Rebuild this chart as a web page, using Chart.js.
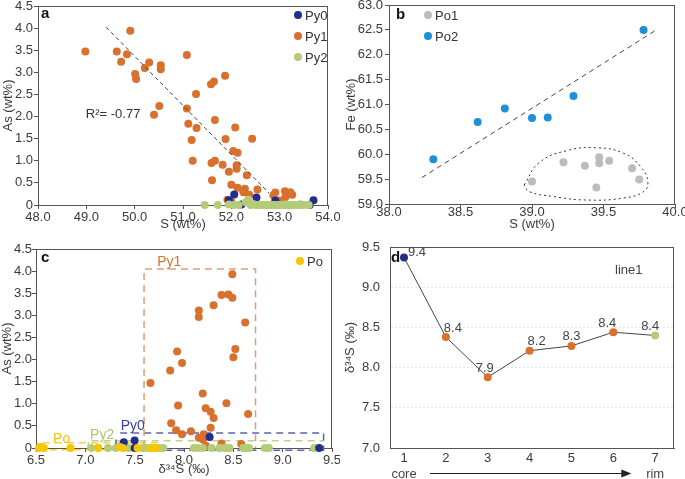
<!DOCTYPE html>
<html>
<head>
<meta charset="utf-8">
<script src="https://cdn.jsdelivr.net/npm/chart.js@4/dist/chart.umd.min.js"></script>
<style>
  body { margin: 0; background: #fff; width: 685px; height: 479px; position: relative; overflow: hidden; }
  canvas { position: absolute; }
</style>
</head>
<body>
<canvas id="ca" width="340" height="240" style="left:0;top:0"></canvas>
<canvas id="cb" width="345" height="240" style="left:340px;top:0"></canvas>
<canvas id="cc" width="340" height="249" style="left:0;top:230px"></canvas>
<canvas id="cd" width="345" height="249" style="left:340px;top:230px"></canvas>
<script>
// panel a: S vs As in pyrite
const aPy1 = [[48.98,3.47],[49.63,3.47],[49.72,3.24],[49.84,3.41],[49.91,3.94],[50.01,2.96],[50.03,2.85],[50.21,3.10],[50.30,3.22],[50.54,3.16],[50.54,3.07],[50.51,2.24],[50.40,2.04],[51.08,3.39],[51.27,2.51],[51.08,2.18],[51.11,1.84],[51.28,1.74],[51.18,1.47],[51.20,1.00],[51.58,2.73],[51.64,2.79],[51.87,2.92],[51.66,1.92],[51.88,1.49],[51.59,0.95],[51.66,1.00],[51.60,0.56],[51.82,0.91],[52.08,1.75],[52.04,1.22],[52.13,1.18],[52.11,0.90],[52.11,0.82],[51.95,0.75],[52.00,0.46],[52.13,0.39],[52.43,1.50],[52.32,0.67],[52.28,0.37],[52.25,0.29],[52.37,0.23],[52.54,0.35],[52.87,0.22],[52.91,0.28],[53.11,0.31],[53.22,0.29],[53.26,0.23],[53.12,0.18],[53.00,0.10],[51.92,0.12],[52.00,0.08],[53.42,0.01],[52.95,0.01]];
const aPy0 = [[52.06,0.24],[52.52,0.17],[51.95,0.11],[52.21,0.01],[52.91,0.10],[53.70,0.11],[53.62,0.0]];
const aPy2 = [[51.45,0],[51.72,0],[51.95,0.01],[52.05,0],[52.15,0],[52.30,0.06],[52.35,0.12],[52.40,0],[52.45,0.02],[52.50,0],[52.55,0],[52.60,0],[52.65,0],[52.70,0],[52.75,0],[52.80,0],[52.85,0],[52.90,0],[52.95,0],[53.00,0],[53.05,0],[53.10,0],[53.15,0],[53.20,0],[53.25,0],[53.30,0],[53.35,0],[53.40,0],[53.50,0],[53.60,0]];
const aTrend = [[49.41,4.02],[52.78,0.27]];
const aXRange = [48, 54, 1];
const aYRange = [0, 4.5, 0.5];

// panel b: S vs Fe in pyrrhotite
const bPo1 = [[39.00,59.45],[39.22,59.84],[39.37,59.77],[39.47,59.94],[39.47,59.82],[39.54,59.87],[39.45,59.33],[39.70,59.72],[39.75,59.49]];
const bPo2 = [[38.31,59.90],[38.62,60.65],[38.81,60.92],[39.00,60.73],[39.11,60.74],[39.29,61.17],[39.78,62.50]];
const bTrend = [[38.23,59.53],[39.87,62.50]];
const bField = [[38.945,59.38],[39.05,59.83],[39.24,60.07],[39.45,60.13],[39.64,60.02],[39.76,59.75],[39.81,59.45],[39.78,59.25],[39.64,59.12],[39.38,59.08],[39.15,59.15],[38.98,59.25],[38.945,59.38]];
const bXRange = [38, 40, 0.5];
const bYRange = [59, 63, 0.5];

// panel c: d34S vs As
const cPy1 = [[7.66,1.47],[7.86,1.75],[7.93,2.18],[7.98,1.92],[7.94,0.96],[7.87,0.56],[7.92,0.40],[7.98,0.31],[8.07,0.38],[8.15,3.11],[8.15,2.96],[8.19,1.23],[8.22,0.90],[8.27,0.82],[8.30,0.68],[8.27,0.46],[8.30,3.23],[8.38,3.46],[8.45,3.47],[8.49,3.40],[8.49,3.93],[8.52,2.24],[8.50,2.05],[8.43,1.01],[8.62,2.84],[8.65,0.77],[8.58,0.09],[8.38,0.10],[8.15,0.23],[8.20,0.31],[8.20,0.23],[8.22,0.05],[8.19,0.19]];
const cPy0 = [[7.50,0.17],[7.39,0.13],[7.50,0.0],[8.26,0.25],[9.37,0.0]];
const cPy2 = [[7.06,0],[7.13,0],[7.23,0],[7.31,0],[7.44,0],[7.58,0],[7.62,0],[7.68,0],[7.75,0],[7.79,0],[8.10,0],[8.14,0],[8.19,0],[8.28,0],[8.36,0],[8.41,0],[8.44,0],[8.46,0],[8.60,0],[8.63,0],[8.66,0],[8.82,0],[8.86,0],[9.32,0]];
const cPo = [[6.53,0],[6.55,0.02],[6.58,0],[6.85,0],[7.13,0],[7.35,0.02],[7.38,0],[7.53,0],[7.66,0],[7.72,0]];
const cBoxPy1 = [[7.595,0],[7.595,4.05],[8.725,4.05],[8.725,0]];
const cBoxPy0 = [[7.31,0.19],[7.31,-0.05],[9.415,-0.05],[9.415,0.34],[7.32,0.34]];
const cBoxPy2 = [[7.03,-0.03],[7.03,0.165],[9.42,0.165]];
const cBoxPo = [[6.52,-0.04],[6.52,0.12],[7.76,0.12],[7.76,-0.04],[6.52,-0.04]];
const cXRange = [6.5, 9.5, 0.5];
const cYRange = [0, 4.5, 0.5];

// panel d: core-to-rim profile
const dStep = [1, 2, 3, 4, 5, 6, 7];
const dDelta = [9.37, 8.38, 7.88, 8.21, 8.27, 8.44, 8.40];
const dYRange = [7, 9.5, 0.5];

const C = { py0: '#232d8c', py1: '#d8702e', py2: '#b4cc78', po: '#f7c600', po1: '#bcbcbc', po2: '#1e8fd8' };
const dColors = [C.py0, C.py1, C.py1, C.py1, C.py1, C.py1, C.py2];
const FONT = '"Liberation Sans", Arial, Helvetica, sans-serif';

Chart.defaults.font.family = FONT;
Chart.defaults.font.size = 13;
Chart.defaults.color = '#3a3a3a';

const pt = a => a.map(([x, y]) => ({ x, y }));
const f1 = v => v.toFixed(1);
const f0 = v => (v === 0 ? '0' : v.toFixed(1));

function axis(range, fmt, title, o) {
  const [min, max, step] = range;
  return {
    type: 'linear', min, max,
    ticks: { stepSize: step, callback: fmt, padding: o.pad, color: '#3a3a3a' },
    grid: { display: o.gridOff !== true, drawOnChartArea: !!o.grid, drawTicks: o.ticks !== false, tickLength: 4, color: o.gridColor || '#555' },
    border: { color: '#555', dash: o.dash },
    title: { display: true, text: title, color: '#3a3a3a', padding: o.tpad },
    afterBuildTicks: o.fixed ? s => { s.ticks = o.fixed.map(value => ({ value })); } : undefined,
    afterFit(s) {
      if (s.isHorizontal()) s.height = o.size; else s.width = o.size;
      s.paddingLeft = s.paddingRight = s.paddingTop = s.paddingBottom = 0;
    }
  };
}

const dots = (data, color, order, r) => ({ data: pt(data), pointBackgroundColor: color, pointBorderWidth: 0, pointRadius: r || 4, clip: false, order });
const path = (data, color, dash, order, extra) => ({ type: 'line', data: pt(data), borderColor: color, borderWidth: 1, borderDash: dash, pointRadius: 0, fill: false, clip: false, order, ...extra });

const decor = {
  id: 'decor',
  beforeDatasetsDraw(chart, args, o) {
    const { ctx, chartArea: a } = chart;
    ctx.save();
    ctx.strokeStyle = o.frame || '#555';
    ctx.lineWidth = 1;
    const l = Math.round(a.left) + 0.5, t = Math.round(a.top) + 0.5;
    ctx.strokeRect(l, t, Math.round(a.right) - 0.5 - l, Math.round(a.bottom) + 0.5 - t);
    ctx.restore();
  },
  afterDraw(chart, args, o) {
    const { ctx, chartArea: a, scales: { x, y } } = chart;
    ctx.save();
    ctx.textBaseline = 'middle';
    if (o.letter) {
      ctx.font = 'bold 15px ' + FONT;
      ctx.fillStyle = '#111';
      ctx.textAlign = 'left';
      ctx.fillText(o.letter[0], a.left + o.letter[1], a.top + o.letter[2]);
    }
    if (o.legend) {
      const lg = o.legend;
      ctx.font = '13px ' + FONT;
      lg.items.forEach(([t, c], i) => {
        const yy = lg.y + i * lg.gap;
        ctx.fillStyle = c;
        ctx.beginPath();
        ctx.arc(lg.x, yy, 4, 0, Math.PI * 2);
        ctx.fill();
        ctx.fillStyle = '#333';
        ctx.textAlign = 'left';
        ctx.fillText(t, lg.x + 7, yy + 1);
      });
    }
    (o.notes || []).forEach(n => {
      ctx.font = (n.size || 13) + 'px ' + FONT;
      ctx.fillStyle = n.color || '#333';
      ctx.textAlign = n.align || 'center';
      ctx.fillText(n.text, x.getPixelForValue(n.x), y.getPixelForValue(n.y));
    });
    ctx.restore();
  }
};

function base(padding, x, y, deco) {
  return {
    responsive: false, animation: false, devicePixelRatio: 1, events: [],
    layout: { padding },
    scales: { x, y },
    plugins: { legend: { display: false }, tooltip: { enabled: false }, decor: deco }
  };
}

// a
new Chart(document.getElementById('ca'), {
  type: 'scatter',
  data: { datasets: [
    path(aTrend, '#444', [4, 3], 0),
    dots(aPy0, C.py0, 2),
    dots(aPy2, C.py2, 1),
    dots(aPy1, C.py1, 3)
  ] },
  options: base({ left: 0, top: 6, right: 12, bottom: 0 },
    axis(aXRange, f1, 'S (wt%)', { size: 35, pad: 1, tpad: { top: 0, bottom: 8 } }),
    axis(aYRange, f0, 'As (wt%)', { size: 38, pad: 1, tpad: { top: 1, bottom: 0 } }),
    { letter: ['a', 3, 8], legend: { x: 298, y: 15, gap: 21, items: [['Py0', C.py0], ['Py1', C.py1], ['Py2', C.py2]] },
      notes: [{ x: 48.99, y: 2.04, text: 'R\u00b2= -0.77', align: 'left', color: '#333' }] }),
  plugins: [decor]
});

// b
new Chart(document.getElementById('cb'), {
  type: 'scatter',
  data: { datasets: [
    path(bTrend, '#444', [5, 4], 0),
    path(bField, '#333', [2, 3], 0, { tension: 0.45 }),
    dots(bPo1, C.po1, 2),
    dots(bPo2, C.po2, 1)
  ] },
  options: base({ left: 0, top: 5, right: 10, bottom: 0 },
    axis(bXRange, f1, 'S (wt%)', { size: 36, pad: -3, tpad: { top: 0, bottom: 8 } }),
    axis(bYRange, f1, 'Fe (wt%)', { size: 49, pad: 2, tpad: { top: 4, bottom: 0 } }),
    { letter: ['b', 7, 10], legend: { x: 88, y: 15, gap: 21, items: [['Po1', C.po1], ['Po2', C.po2]] } }),
  plugins: [decor]
});

// c
new Chart(document.getElementById('cc'), {
  type: 'scatter',
  data: { datasets: [
    dots(cPy1, C.py1, 3),
    dots(cPy0, C.py0, 1),
    dots(cPy2, C.py2, 2),
    dots(cPo, C.po, 0),
    path(cBoxPy1, '#e39a6e', [7, 5], 5, { borderWidth: 1.5 }),
    path(cBoxPy0, '#5a63b5', [7, 5], 5, { borderWidth: 1.5 }),
    path(cBoxPy2, '#bdd18f', [7, 5], 6, { borderWidth: 1.5 }),
    path(cBoxPo, '#f7d23c', [7, 5], 6, { borderWidth: 1.5 })
  ] },
  options: base({ left: 0, top: 19, right: 8, bottom: 0 },
    axis(cXRange, f1, '\u03b4\u00b3\u2074S (\u2030)', { size: 31, pad: 1, tpad: { top: 0, bottom: 2 } }),
    axis(cYRange, f0, 'As (wt%)', { size: 36, pad: 0, tpad: { top: 0, bottom: 0 } }),
    { letter: ['c', 5, 9], legend: { x: 300, y: 31, gap: 21, items: [['Po', C.po]] },
      notes: [
        { x: 7.85, y: 4.2, text: 'Py1', color: '#d8702e', size: 14 },
        { x: 7.48, y: 0.49, text: 'Py0', color: '#3a42a0', size: 14 },
        { x: 7.17, y: 0.28, text: 'Py2', color: '#a9c472', size: 14 },
        { x: 6.76, y: 0.21, text: 'Po', color: '#f2c200', size: 14 }
      ] }),
  plugins: [decor]
});

// d
const dExtras = {
  id: 'dExtras',
  afterDraw(chart) {
    const { ctx, chartArea: a, scales: { x } } = chart;
    const pts = chart.getDatasetMeta(0).data;
    const shift = [[13, -5], [7, -9], [-3, -9], [7, -9], [0, -9], [-6, -9], [-5, -9]];
    ctx.save();
    ctx.font = '13px ' + FONT;
    ctx.fillStyle = '#444';
    ctx.textAlign = 'center';
    ctx.textBaseline = 'middle';
    pts.forEach((p, i) => ctx.fillText(f1(dDelta[i]), p.x + shift[i][0], p.y + shift[i][1]));
    const yy = a.bottom + 26;
    ctx.fillText('core', x.getPixelForValue(1), yy);
    ctx.fillText('rim', x.getPixelForValue(7), yy);
    ctx.strokeStyle = '#222';
    ctx.lineWidth = 1;
    ctx.beginPath();
    ctx.moveTo(x.getPixelForValue(1.62), yy - 0.5);
    ctx.lineTo(x.getPixelForValue(6.3), yy - 0.5);
    ctx.stroke();
    const tip = x.getPixelForValue(6.43);
    ctx.fillStyle = '#222';
    ctx.beginPath();
    ctx.moveTo(tip, yy - 0.5);
    ctx.lineTo(tip - 10, yy - 4.5);
    ctx.lineTo(tip - 10, yy + 3.5);
    ctx.closePath();
    ctx.fill();
    ctx.restore();
  }
};

new Chart(document.getElementById('cd'), {
  type: 'line',
  data: { datasets: [{
    data: dStep.map((s, i) => ({ x: s, y: dDelta[i] })),
    borderColor: '#444', borderWidth: 1, tension: 0,
    pointBackgroundColor: dColors, pointBorderWidth: 0, pointRadius: 4, clip: false
  }] },
  options: base({ left: 0, top: 17, right: 11, bottom: 0 },
    axis([0.665, 7.45, 1], v => String(v), '', { size: 31, pad: 3, ticks: false, gridOff: true, fixed: dStep, tpad: 0 }),
    axis(dYRange, f1, '\u03b4\u00b3\u2074S (\u2030)', { size: 50, pad: 10, ticks: false, grid: true, gridColor: '#e6e6e6', dash: [2, 2], tpad: { top: 3, bottom: 0 } }),
    { letter: ['d', 1, 11], notes: [{ x: 6.37, y: 9.21, text: 'line1', color: '#444' }] }),
  plugins: [decor, dExtras]
});
</script>
</body>
</html>
